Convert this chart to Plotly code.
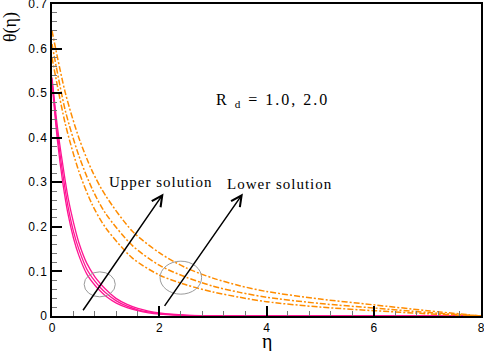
import plotly.graph_objects as go

# ---- data ----
eta_upper = [0, 0.1, 0.2, 0.3, 0.4, 0.5, 0.65, 0.8, 0.9, 1.0, 1.2, 1.4, 1.6, 1.8, 2.0, 2.5, 3.0, 3.5, 8.0]
upper_1 = [0.535, 0.425, 0.34, 0.265, 0.21, 0.165, 0.118, 0.088, 0.073, 0.060, 0.039, 0.026, 0.017, 0.011, 0.007, 0.002, 0.0006, 0.0, 0.0]
upper_2 = [0.530, 0.410, 0.32, 0.245, 0.19, 0.150, 0.105, 0.078, 0.064, 0.052, 0.034, 0.022, 0.014, 0.009, 0.005, 0.0015, 0.0004, 0.0, 0.0]
upper_3 = [0.525, 0.395, 0.30, 0.228, 0.175, 0.136, 0.094, 0.069, 0.056, 0.045, 0.029, 0.019, 0.012, 0.007, 0.004, 0.001, 0.0003, 0.0, 0.0]

eta_lower = [0, 0.25, 0.5, 0.75, 1.0, 1.5, 2.0, 2.5, 3.0, 3.5, 4.0, 5.0, 6.0, 7.0, 8.0]
lower_1 = [0.64, 0.50, 0.40, 0.325, 0.27, 0.19, 0.142, 0.108, 0.085, 0.068, 0.055, 0.038, 0.025, 0.012, 0.0]
lower_2 = [0.61, 0.46, 0.36, 0.285, 0.23, 0.158, 0.114, 0.087, 0.067, 0.053, 0.042, 0.028, 0.018, 0.008, 0.0]
lower_3 = [0.58, 0.43, 0.325, 0.25, 0.198, 0.130, 0.092, 0.070, 0.054, 0.042, 0.032, 0.020, 0.012, 0.005, 0.0]

x_ticks = [0, 2, 4, 6, 8]
y_ticks = [0, 0.1, 0.2, 0.3, 0.4, 0.5, 0.6, 0.7]

MAGENTA = "#FF1493"
ORANGE = "#FF8C00"

fig = go.Figure()
for ys in (upper_1, upper_2, upper_3):
    fig.add_trace(go.Scatter(x=eta_upper, y=ys, mode="lines", line=dict(color=MAGENTA, width=1.3, shape="spline", smoothing=0.8),
                             showlegend=False, hoverinfo="skip"))
for ys in (lower_1, lower_2, lower_3):
    fig.add_trace(go.Scatter(x=eta_lower, y=ys, mode="lines",
                             line=dict(color=ORANGE, width=1.5, dash="6px,2px,2px,2px", shape="spline", smoothing=0.8),
                             showlegend=False, hoverinfo="skip"))

serif = "Liberation Serif, Times New Roman, serif"
sans = "Liberation Sans, Arial, sans-serif"

annotations = [
    dict(x=2.03, y=0.30, text="Upper solution", showarrow=False, font=dict(family=serif, size=15, color="black")),
    dict(x=4.25, y=0.296, text="Lower solution", showarrow=False, font=dict(family=serif, size=15, color="black")),
    dict(x=4.12, y=0.484, text="R\u00a0<sub>d</sub>\u00a0=\u00a01.0,\u00a02.0", showarrow=False,
         font=dict(family=serif, size=16, color="black")),
    # arrows
    dict(x=2.08, y=0.275, ax=0.56, ay=0.0096, xref="x", yref="y", axref="x", ayref="y", text="",
         showarrow=True, arrowhead=5, arrowsize=1.4, arrowwidth=1.5, arrowcolor="black"),
    dict(x=3.56, y=0.275, ax=2.08, ay=0.0195, xref="x", yref="y", axref="x", ayref="y", text="",
         showarrow=True, arrowhead=5, arrowsize=1.4, arrowwidth=1.5, arrowcolor="black"),
    # axis titles
    dict(x=-0.098, y=0.926, xref="paper", yref="paper", text="θ(η)", textangle=-90, showarrow=False,
         xanchor="center", yanchor="middle", font=dict(family=serif, size=18, color="black")),
    dict(x=0.501, y=-0.083, xref="paper", yref="paper", text="η", showarrow=False,
         xanchor="center", yanchor="middle", font=dict(family=serif, size=20, color="black")),
]

shapes = [
    dict(type="circle", xref="x", yref="y", x0=0.60, x1=1.18, y0=0.043, y1=0.099, line=dict(color="#9a9a9a", width=1)),
    dict(type="circle", xref="x", yref="y", x0=2.015, x1=2.79, y0=0.049, y1=0.123, line=dict(color="#9a9a9a", width=1)),
]

fig.update_layout(
    width=484, height=351,
    margin=dict(l=52, r=3, t=4, b=35),
    paper_bgcolor="white", plot_bgcolor="white",
    showlegend=False,
    annotations=annotations,
    shapes=shapes,
    xaxis=dict(range=[0, 8], tickvals=x_ticks, ticktext=[str(v) for v in x_ticks],
               showline=True, linecolor="black", linewidth=1.5, mirror=True,
               ticks="inside", ticklen=10, tickwidth=1.5, tickcolor="black",
               minor=dict(ticks="inside", ticklen=5, tickwidth=1, tickcolor="#777", dtick=0.4, showgrid=False),
               showgrid=False, zeroline=False, automargin=False, ticklabeloverflow="allow",
               tickfont=dict(family=sans, size=12, color="black")),
    yaxis=dict(range=[0, 0.7], tickvals=y_ticks, ticktext=["0", "0.1", "0.2", "0.3", "0.4", "0.5", "0.6", "0.7"],
               showline=True, linecolor="black", linewidth=1.5, mirror=True,
               ticks="inside", ticklen=10, tickwidth=1.5, tickcolor="black",
               minor=dict(ticks="inside", ticklen=5, tickwidth=1, tickcolor="#777", dtick=0.02, showgrid=False),
               showgrid=False, zeroline=False, automargin=False, ticklabeloverflow="allow",
               tickfont=dict(family=sans, size=12, color="black")),
)

post = """
document.body.style.margin='0';
document.body.style.overflow='hidden';
document.querySelectorAll('text.annotation-text').forEach(function(t){
  var s = t.textContent;
  if (s.indexOf('solution') >= 0) { t.style.letterSpacing = '1px'; }
  else if (s.charAt(0) === 'R') { t.style.letterSpacing = '2px'; }
});
document.querySelectorAll('g.ytick text').forEach(function(t){ t.style.letterSpacing = '1px'; });
"""

fig.write_html("out.html", config={"displayModeBar": False}, post_script=post)
